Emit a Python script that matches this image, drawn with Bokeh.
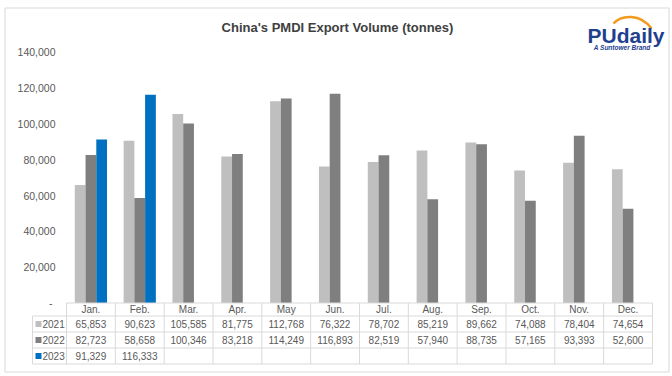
import numpy as np
from bokeh.plotting import figure
from bokeh.models import Range1d
from bokeh.core.properties import value
from bokeh.embed import file_html
from bokeh.resources import INLINE

# ---- data ----
months = ["Jan.", "Feb.", "Mar.", "Apr.", "May", "Jun.", "Jul.", "Aug.", "Sep.", "Oct.", "Nov.", "Dec."]
years = ["2021", "2022", "2023"]
s2021 = [65853, 90623, 105585, 81775, 112768, 76322, 78702, 85219, 89662, 74088, 78404, 74654]
s2022 = [82723, 58658, 100346, 83218, 114249, 116893, 82519, 57940, 88735, 57165, 93393, 52600]
s2023 = [91329, 116333]
y_ticks = [0, 20000, 40000, 60000, 80000, 100000, 120000, 140000]
title = "China's PMDI Export Volume (tonnes)"

colors = ["#BFBFBF", "#7F7F7F", "#0070C0"]
series = [s2021, s2022, s2023]

# ---- layout (page pixel geometry) ----
W, H = 672, 376
PX0, PY0 = 0, 0
col_left_px, col_w_px = 66.0, 48.83
zero_px, px_per_unit = 302.5, 35.8 / 20000

def ux(px):
    return (px - col_left_px) / col_w_px

def uy(py):
    return (zero_px - py) / px_per_unit

p = figure(width=W, height=H, output_backend="svg", toolbar_location=None,
           title=None, x_axis_location=None, y_axis_location=None,
           x_range=Range1d(ux(PX0), ux(PX0 + W)),
           y_range=Range1d(uy(PY0 + H), uy(PY0)),
           min_border=0, background_fill_color="white", border_fill_color="white")
p.extra_x_ranges = {"px": Range1d(PX0, PX0 + W)}
p.extra_y_ranges = {"px": Range1d(PY0 + H, PY0)}
p.xgrid.visible = False
p.ygrid.visible = False
p.outline_line_color = None

# outer chart-area border
p.quad(left=[4.5], right=[668.5], top=[7.5], bottom=[371.5], x_range_name="px", y_range_name="px",
       fill_color=None, line_color="#D9D9D9", line_width=1)

# ---- bars ----
bar_w = 0.22
offsets = [-0.22, 0.0, 0.22]
for vals, c, off in zip(series, colors, offsets):
    xs = np.arange(len(vals)) + 0.5 + off
    p.vbar(x=xs, top=vals, bottom=0, width=bar_w, fill_color=c, line_color=None)

# ---- y tick labels ----
def fmt(v):
    return "- " if v == 0 else f"{v:,}"
p.text(x=[55] * len(y_ticks), y=y_ticks, text=[fmt(v) for v in y_ticks],
       x_range_name="px", text_align="right", text_baseline="middle",
       text_font=value("Liberation Sans"), text_font_size="10.5px", text_color="#595959")

# ---- data table ----
grid_c = "#D9D9D9"
row_edges = [302.5, 315.5, 331.5, 347.5, 363.5]
n = len(months)
p.segment(x0=[0], y0=[row_edges[0]], x1=[n], y1=[row_edges[0]], y_range_name="px",
          line_color=grid_c, line_width=1)
p.segment(x0=[ux(32)] * 4, y0=row_edges[1:], x1=[n] * 4, y1=row_edges[1:], y_range_name="px",
          line_color=grid_c, line_width=1)
ks = list(range(n + 1))
p.segment(x0=ks, y0=[row_edges[0]] * len(ks), x1=ks, y1=[row_edges[-1]] * len(ks),
          y_range_name="px", line_color=grid_c, line_width=1)
p.segment(x0=[ux(32)], y0=[row_edges[1]], x1=[ux(32)], y1=[row_edges[-1]],
          y_range_name="px", line_color=grid_c, line_width=1)

tfont = value("Liberation Sans")
row_mid = [(row_edges[i] + row_edges[i + 1]) / 2 for i in range(4)]
centers = np.arange(n) + 0.5
p.text(x=centers, y=[row_mid[0]] * n, text=months, y_range_name="px",
       text_align="center", text_baseline="middle", text_font=tfont,
       text_font_size="10px", text_color="#595959")
for r, vals in enumerate(series):
    p.text(x=centers[:len(vals)], y=[row_mid[r + 1]] * len(vals), text=[f"{v:,}" for v in vals],
           y_range_name="px", text_align="center", text_baseline="middle", text_font=tfont,
           text_font_size="10px", text_color="#595959")
p.scatter(x=[38] * 3, y=row_mid[1:], marker="square", size=6, color=colors,
          x_range_name="px", y_range_name="px", line_color=None)
p.text(x=[42] * 3, y=row_mid[1:], text=years, x_range_name="px", y_range_name="px",
       text_align="left", text_baseline="middle", text_font=tfont,
       text_font_size="10px", text_color="#595959")

# ---- title ----
p.text(x=[337], y=[27], text=[title], x_range_name="px", y_range_name="px",
       text_align="center", text_baseline="middle", text_font=tfont,
       text_font_size="13px", text_font_style="bold", text_color="#404040")

# ---- logo ----
p.bezier(x0=[613], y0=[23], x1=[651], y1=[28], cx0=[621], cy0=[14], cx1=[640], cy1=[13],
         x_range_name="px", y_range_name="px", line_color="#F39A1E", line_width=2.5)
p.text(x=[587], y=[35], text=["PUdaily"], x_range_name="px", y_range_name="px",
       text_align="left", text_baseline="middle", text_font=tfont,
       text_font_size="21px", text_font_style="bold", text_color="#1F3F8F")
p.text(x=[650], y=[47], text=["A Suntower Brand"], x_range_name="px", y_range_name="px",
       text_align="right", text_baseline="middle", text_font=tfont,
       text_font_size="6.5px", text_font_style="bold italic", text_color="#1F3F8F")

open("out.html", "w").write(file_html(p, INLINE))
